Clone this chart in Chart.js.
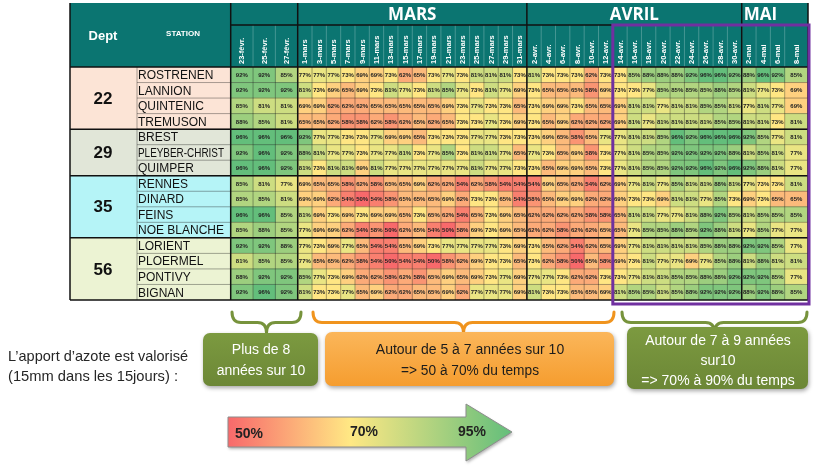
<!DOCTYPE html>
<html lang="fr">
<head>
<meta charset="utf-8">
<title>Valorisation de l'apport d'azote</title>
<script src="https://cdn.jsdelivr.net/npm/chart.js@4.4.1/dist/chart.umd.min.js"></script>
<style>
  html, body { margin: 0; padding: 0; background: #fff; }
  #wrap { width: 820px; height: 466px; position: relative; }
</style>
</head>
<body>
<div id="wrap"><canvas id="chartAzote"></canvas></div>
<script>
const stations = ['ROSTRENEN', 'LANNION', 'QUINTENIC', 'TREMUSON', 'BREST', 'PLEYBER-CHRIST', 'QUIMPER',
  'RENNES', 'DINARD', 'FEINS', 'NOE BLANCHE', 'LORIENT', 'PLOERMEL', 'PONTIVY', 'BIGNAN'];
const depts = ['22', '29', '35', '56'];
const deptSizes = [4, 3, 4, 4];
const dates = ['23-févr.', '25-févr.', '27-févr.',
  '1-mars', '3-mars', '5-mars', '7-mars', '9-mars', '11-mars', '13-mars', '15-mars',
  '17-mars', '19-mars', '21-mars', '23-mars', '25-mars', '27-mars', '29-mars', '31-mars',
  '2-avr.', '4-avr.', '6-avr.', '8-avr.', '10-avr.', '12-avr.', '14-avr.', '16-avr.',
  '18-avr.', '20-avr.', '22-avr.', '24-avr.', '26-avr.', '28-avr.', '30-avr.',
  '2-mai', '4-mai', '6-mai', '8-mai'];
const months = ['MARS', 'AVRIL', 'MAI'];
const monthFirst = [3, 19, 34];   // index of first column of each month

// % of years where the nitrogen is used (one list per station, same order as dates)
const rostrenen = [92,92,85, 77,77,77,73,69,69,73,62,65,73,77,73,81,81,81,73, 81,73,73,73,62,73,73,85,88,88,88,92,96,96,92, 88,96,92,85];
const lannion   = [92,92,92, 81,73,69,65,69,73,81,77,73,81,85,77,73,81,77,69, 73,65,65,65,58,69,73,73,77,85,85,85,85,88,85, 81,77,73,69];
const quintenic = [85,81,81, 69,69,62,62,62,65,65,65,65,65,69,73,77,73,73,65, 73,69,69,73,65,65,69,81,81,77,81,81,85,85,81, 77,81,77,69];
const tremuson  = [88,85,81, 65,65,62,58,58,62,58,62,65,62,65,73,73,77,73,69, 73,65,69,62,62,62,69,81,77,81,81,81,81,85,85, 81,81,73,81];
const brest     = [96,96,96, 92,77,77,73,73,77,69,69,65,73,73,73,77,77,73,73, 73,69,65,58,65,77,77,81,81,85,96,92,96,96,96, 92,85,77,81];
const pleyber   = [92,96,92, 88,81,77,77,73,77,77,81,73,77,85,73,81,81,77,65, 77,73,65,69,58,73,77,81,85,85,92,92,92,92,88, 81,85,81,77];
const quimper   = [96,96,92, 81,73,81,81,69,81,77,77,77,77,77,77,81,77,77,73, 73,65,69,69,65,73,77,81,85,85,92,92,96,92,96, 92,88,81,77];
const rennes    = [85,81,77, 69,65,65,58,62,58,65,65,69,62,62,54,62,58,54,54, 54,69,65,62,54,62,69,77,81,77,85,81,81,88,81, 77,73,73,81];
const dinard    = [85,85,81, 69,69,62,54,50,54,58,65,65,65,69,62,73,73,65,54, 58,65,69,69,62,62,69,73,73,69,81,81,77,85,73, 69,73,65,65];
const feins     = [96,96,85, 81,69,73,69,73,69,69,65,73,65,62,54,65,73,69,65, 62,62,62,62,58,58,65,81,81,77,77,81,88,92,85, 81,85,85,85];
const noeBlanche= [85,88,85, 77,69,69,62,54,58,50,62,65,54,50,58,69,73,69,65, 62,62,58,62,62,65,65,77,85,85,88,85,92,88,81, 77,85,77,77];
const lorient   = [92,92,88, 77,73,69,77,65,54,54,65,69,73,77,77,77,77,73,69, 73,65,62,54,62,65,69,77,81,81,81,81,85,88,88, 92,92,85,77];
const ploermel  = [81,85,85, 77,65,65,62,58,54,50,54,54,50,58,62,69,73,73,65, 73,62,58,50,65,58,69,73,81,77,77,69,77,85,88, 81,88,81,81];
const pontivy   = [88,92,92, 85,77,73,69,62,62,58,62,58,65,69,65,69,73,77,69, 77,77,73,62,62,73,73,77,81,81,85,85,88,88,92, 92,92,85,77];
const bignan    = [92,96,92, 81,73,73,77,65,69,62,62,65,65,69,62,77,77,77,69, 81,73,73,65,65,69,81,85,85,81,85,88,92,92,92, 88,92,88,85];
const rows = [rostrenen, lannion, quintenic, tremuson, brest, pleyber, quimper,
  rennes, dinard, feins, noeBlanche, lorient, ploermel, pontivy, bignan];

// layout: column widths (feb columns and 8-mai are wider in the original table)
const colWidths = dates.map((d, i) => i < 3 ? 22.33 : (i === dates.length - 1 ? 23.3 : 14.32));
const colStart = [];
colWidths.reduce((acc, w, i) => { colStart[i] = acc; return acc + w; }, 0);
const totalWidth = colWidths.reduce((a, b) => a + b, 0);

const deptColors = ['#fce4d6', '#e1e6d8', '#b5f4f7', '#ecf3d3'];
const teal = '#0b7571';
const purple = '#7030a0';

function heatColor(v) {
  const lo = [248, 105, 107], mid = [255, 235, 132], hi = [99, 190, 123];
  let a, b, t;
  if (v <= 74) { a = lo; b = mid; t = (v - 50) / 24; }
  else { a = mid; b = hi; t = (v - 74) / 22; }
  t = Math.max(0, Math.min(1, t));
  const c = a.map((x, k) => Math.round(x + (b[k] - x) * t));
  return 'rgb(' + c.join(',') + ')';
}

function line(ctx, x0, y0, x1, y1) {
  ctx.beginPath(); ctx.moveTo(x0, y0); ctx.lineTo(x1, y1); ctx.stroke();
}

function brace(ctx, x0, x1, y0, y1, color) {
  const cx = (x0 + x1) / 2, ym = y0 + (y1 - y0) * 0.5, r = 9;
  ctx.save();
  ctx.strokeStyle = color; ctx.lineWidth = 3; ctx.lineCap = 'round';
  ctx.beginPath();
  ctx.moveTo(x0, y0);
  ctx.quadraticCurveTo(x0, ym, x0 + r, ym);
  ctx.lineTo(cx - r, ym);
  ctx.quadraticCurveTo(cx, ym, cx, y1);
  ctx.quadraticCurveTo(cx, ym, cx + r, ym);
  ctx.lineTo(x1 - r, ym);
  ctx.quadraticCurveTo(x1, ym, x1, y0);
  ctx.stroke();
  ctx.restore();
}

function roundBox(ctx, x, y, w, h, top, bottom) {
  ctx.save();
  ctx.shadowColor = 'rgba(0,0,0,0.35)'; ctx.shadowBlur = 4; ctx.shadowOffsetX = 1; ctx.shadowOffsetY = 2;
  const g = ctx.createLinearGradient(0, y, 0, y + h);
  g.addColorStop(0, top); g.addColorStop(1, bottom);
  ctx.fillStyle = g;
  ctx.beginPath(); ctx.roundRect(x, y, w, h, 7); ctx.fill();
  ctx.restore();
}

const tablePlugin = {
  id: 'tableDeco',
  beforeDatasetsDraw(chart) {
    const ctx = chart.ctx, ca = chart.chartArea, xs = chart.scales.x;
    const colL = c => xs.getPixelForValue(colStart[c]);
    const colR = c => xs.getPixelForValue(colStart[c] + colWidths[c]);
    const rh = (ca.bottom - ca.top) / stations.length;
    const rowT = i => ca.top + i * rh;
    ctx.save();
    // header
    ctx.fillStyle = teal;
    ctx.fillRect(70, 3, ca.right - 70, ca.top - 3);
    ctx.fillStyle = '#fff';
    ctx.textAlign = 'center'; ctx.textBaseline = 'middle';
    ctx.font = 'bold 13px "Liberation Sans", Arial, sans-serif';
    ctx.fillText('Dept', 103, 36);
    ctx.font = 'bold 8px "Liberation Sans", Arial, sans-serif';
    ctx.fillText('STATION', 183, 34);
    ctx.font = 'bold 17px "Open Sans", "Liberation Sans", sans-serif';
    months.forEach((m, k) => {
      const first = monthFirst[k];
      const last = k < months.length - 1 ? monthFirst[k + 1] - 1 : dates.length - 1;
      if (m === 'MAI') { ctx.textAlign = 'left'; ctx.fillText(m, colL(first) + 2, 15); ctx.textAlign = 'center'; }
      else ctx.fillText(m, (colL(first) + colR(last)) / 2, 15);
    });
    // rotated date labels, reading bottom to top
    ctx.font = 'bold 7.5px "Liberation Sans", Arial, sans-serif';
    ctx.textAlign = 'left';
    dates.forEach((d, c) => {
      ctx.save();
      ctx.translate((colL(c) + colR(c)) / 2, ca.top - 3);
      ctx.rotate(-Math.PI / 2);
      ctx.fillText(d, 0, 0.5);
      ctx.restore();
    });
    ctx.strokeStyle = 'rgba(255,255,255,0.3)'; ctx.lineWidth = 0.8;
    for (let c = 1; c < dates.length; c++) line(ctx, colL(c), 25, colL(c), ca.top);
    // left columns
    let start = 0;
    depts.forEach((d, k) => {
      const y0 = rowT(start), y1 = rowT(start + deptSizes[k]);
      ctx.fillStyle = deptColors[k];
      ctx.fillRect(70, y0, ca.left - 70, y1 - y0);
      ctx.fillStyle = '#111';
      ctx.textAlign = 'center';
      ctx.font = 'bold 17px "Liberation Sans", Arial, sans-serif';
      ctx.fillText(d, 103, (y0 + y1) / 2 + 1);
      start += deptSizes[k];
    });
    ctx.textAlign = 'left';
    ctx.font = '12px "Liberation Sans", Arial, sans-serif';
    ctx.fillStyle = '#111';
    stations.forEach((s, i) => ctx.fillText(s, 138, rowT(i) + rh / 2 + 1, 86));
    ctx.restore();
  },
  afterDatasetsDraw(chart) {
    const ctx = chart.ctx, ca = chart.chartArea, xs = chart.scales.x;
    const colL = c => xs.getPixelForValue(colStart[c]);
    const rh = (ca.bottom - ca.top) / stations.length;
    const rowT = i => ca.top + i * rh;
    ctx.save();
    // cell labels
    ctx.fillStyle = '#222';
    ctx.font = 'bold 6px "Liberation Sans", Arial, sans-serif';
    ctx.textAlign = 'center'; ctx.textBaseline = 'middle';
    chart.data.datasets.forEach((ds, c) => {
      chart.getDatasetMeta(c).data.forEach((el, i) => {
        ctx.fillText(rows[i][c] + '%', (el.x + el.base) / 2, el.y + 0.5, colWidths[c] - 1.5);
      });
    });
    // thin grid
    ctx.strokeStyle = 'rgba(30,30,30,0.55)'; ctx.lineWidth = 0.7;
    for (let c = 1; c < dates.length; c++) line(ctx, colL(c), ca.top, colL(c), ca.bottom);
    for (let i = 1; i < stations.length; i++) line(ctx, 137, rowT(i), ca.right, rowT(i));
    line(ctx, 137, ca.top, 137, ca.bottom);
    // thick lines
    ctx.strokeStyle = '#111'; ctx.lineWidth = 1.5;
    line(ctx, 70, 3, 70, ca.bottom);
    line(ctx, ca.right, 3, ca.right, ca.bottom);
    line(ctx, ca.left, 3, ca.left, ca.bottom);
    monthFirst.forEach(c => line(ctx, colL(c), 3, colL(c), ca.bottom));
    line(ctx, ca.left, 25, ca.right, 25);
    line(ctx, 70, ca.top, ca.right, ca.top);
    let acc = 0;
    deptSizes.forEach(n => { acc += n; line(ctx, 70, rowT(acc), ca.right, rowT(acc)); });
    // highlighted period
    ctx.strokeStyle = purple; ctx.lineWidth = 3;
    const px = colL(25);
    ctx.strokeRect(px, 25, ca.right + 1 - px, ca.bottom + 4 - 25);

    // annotations below the table
    brace(ctx, 232, 301, 312, 333, '#77933c');
    brace(ctx, 313, 614, 312, 333, '#f0941e');
    brace(ctx, 622, 807, 312, 333, '#77933c');
    roundBox(ctx, 203, 333, 115, 53, '#7c9a40', '#6c8736');
    roundBox(ctx, 325, 332, 289, 54, '#fbb65a', '#f59d2f');
    roundBox(ctx, 627, 327, 181, 62, '#7c9a40', '#6c8736');
    ctx.textAlign = 'center'; ctx.textBaseline = 'middle';
    ctx.font = '14px "Liberation Sans", Arial, sans-serif';
    ctx.fillStyle = '#fff';
    ctx.fillText('Plus de 8', 261, 350, 64);
    ctx.fillText('années sur 10', 261, 371, 98);
    ctx.fillText('Autour de 7 à 9 années', 718, 341, 162);
    ctx.fillText('sur10', 718, 361, 38);
    ctx.fillText('=> 70% à 90% du temps', 718, 381, 176);
    ctx.fillStyle = '#1c1c1c';
    ctx.fillText('Autour de 5 à 7 années sur 10', 470, 350, 196);
    ctx.fillText('=> 50 à 70% du temps', 470, 371, 138);
    ctx.textAlign = 'left';
    ctx.font = '15px "Liberation Sans", Arial, sans-serif';
    ctx.fillStyle = '#262626';
    ctx.fillText('L\u2019apport d\u2019azote est valorisé', 8, 357, 180);
    ctx.fillText('(15mm dans les 15jours) :', 8, 377, 170);
    // colour scale arrow
    ctx.save();
    const g = ctx.createLinearGradient(228, 0, 512, 0);
    g.addColorStop(0, '#f8696b'); g.addColorStop(0.43, '#ffe884'); g.addColorStop(1, '#63be7b');
    ctx.shadowColor = 'rgba(0,0,0,0.3)'; ctx.shadowBlur = 3; ctx.shadowOffsetX = 1; ctx.shadowOffsetY = 2;
    ctx.beginPath();
    ctx.moveTo(228, 417); ctx.lineTo(466, 417); ctx.lineTo(466, 404); ctx.lineTo(512, 432);
    ctx.lineTo(466, 461); ctx.lineTo(466, 447); ctx.lineTo(228, 447); ctx.closePath();
    ctx.fillStyle = g; ctx.fill();
    ctx.shadowColor = 'transparent';
    ctx.strokeStyle = '#8c8c8c'; ctx.lineWidth = 1; ctx.stroke();
    ctx.restore();
    ctx.font = 'bold 14px "Liberation Sans", Arial, sans-serif';
    ctx.fillStyle = '#222';
    ctx.fillText('50%', 235, 434, 28);
    ctx.fillText('70%', 350, 432, 28);
    ctx.fillText('95%', 458, 432, 30);
    ctx.restore();
  }
};

const datasets = dates.map((d, c) => ({
  label: d,
  data: rows.map(() => [colStart[c], colStart[c] + colWidths[c]]),
  backgroundColor: rows.map(r => heatColor(r[c])),
  borderWidth: 0,
  grouped: false,
  barPercentage: 1,
  categoryPercentage: 1
}));

new Chart(document.getElementById('chartAzote'), {
  type: 'bar',
  data: { labels: stations, datasets: datasets },
  options: {
    indexAxis: 'y',
    responsive: true,
    maintainAspectRatio: false,
    animation: false,
    layout: { padding: { left: 230.7, right: 12, top: 67, bottom: 166 } },
    scales: {
      x: { type: 'linear', min: 0, max: totalWidth, display: false },
      y: { display: false }
    },
    plugins: { legend: { display: false }, tooltip: { enabled: false } }
  },
  plugins: [tablePlugin]
});
</script>
</body>
</html>
